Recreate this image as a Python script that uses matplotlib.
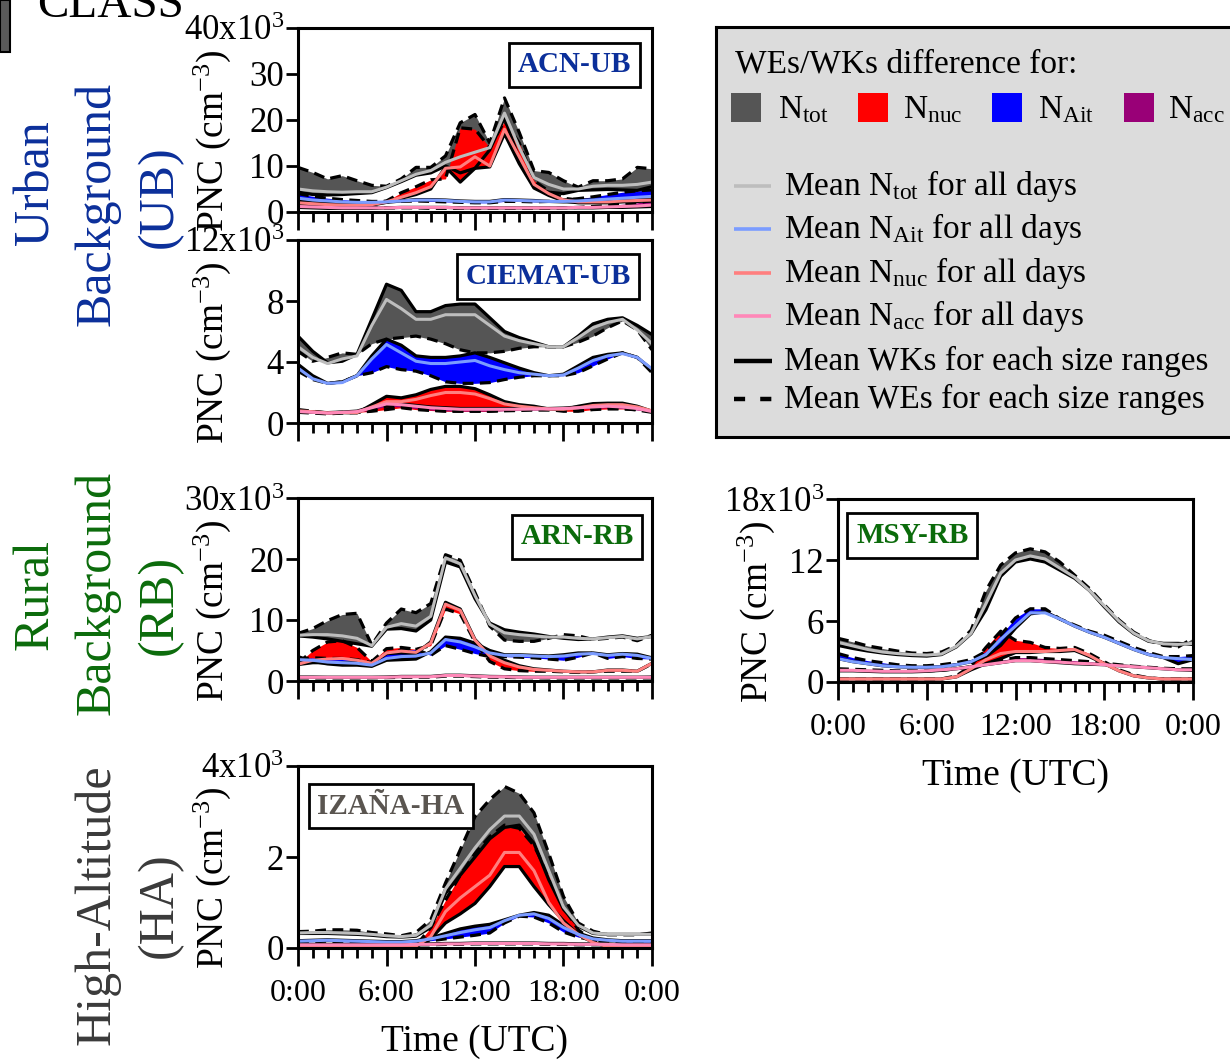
import numpy as np
import matplotlib.pyplot as plt
from matplotlib.patches import Rectangle

plt.rcParams['font.family'] = ['Liberation Serif', 'DejaVu Serif']
plt.rcParams['mathtext.fontset'] = 'custom'
plt.rcParams['mathtext.rm'] = 'Liberation Serif'
plt.rcParams['mathtext.it'] = 'Liberation Serif:italic'
plt.rcParams['mathtext.bf'] = 'Liberation Serif:bold'

# hourly means (x10^3 cm-3), 0:00 .. 24:00
hours = np.arange(25)

# ACN-UB
acn_tot_wk = [4.3,3.8,3.7,3.8,4.0,4.2,5.3,6.6,8.0,8.5,10.0,8.5,9.5,13.5,20.5,11.5,5.4,4.3,4.0,4.7,4.8,4.9,4.8,4.7,5.5]
acn_tot_we = [9.7,8.6,7.2,7.9,6.8,5.8,5.6,7.2,9.7,9.7,12.2,19.4,21.2,15.0,24.8,17.3,9.0,8.6,6.8,5.4,6.8,6.8,7.2,9.7,9.4]
acn_tot_all = [5.0,4.6,4.4,4.3,4.4,4.4,5.4,6.8,8.2,9.0,10.8,12.0,13.0,14.0,21.5,14.0,7.5,6.0,5.0,5.0,5.6,5.8,5.8,6.0,6.5]
acn_nuc_wk = [1.8,1.6,1.5,1.4,1.4,1.5,2.1,3.0,3.8,5.0,9.8,6.5,9.5,9.8,17.0,10.5,5.2,3.6,2.4,2.0,2.0,2.0,2.2,2.3,2.4]
acn_nuc_we = [2.5,2.2,2.0,1.8,1.7,1.8,2.4,4.2,5.5,7.0,7.2,18.3,18.0,14.0,19.8,15.0,6.8,4.5,3.0,2.6,2.6,2.6,2.8,2.8,3.0]
acn_nuc_all = [2.0,1.8,1.6,1.5,1.5,1.6,2.2,3.2,4.2,5.5,9.5,9.8,12.0,10.0,18.0,12.0,6.0,4.0,2.6,2.2,2.2,2.2,2.4,2.5,2.6]
acn_ait_wk = [2.6,2.3,2.1,2.0,1.9,1.9,2.1,2.4,2.7,2.7,2.6,2.4,2.3,2.3,2.7,2.6,2.5,2.3,2.2,2.2,2.3,2.4,2.6,2.8,3.0]
acn_ait_we = [4.0,3.4,3.0,2.7,2.5,2.3,2.3,2.3,2.4,2.3,2.2,2.1,2.0,2.0,2.3,2.3,2.2,2.3,2.6,2.9,3.3,3.8,4.3,4.6,4.8]
acn_ait_all = [3.0,2.6,2.4,2.2,2.1,2.1,2.2,2.4,2.6,2.6,2.5,2.3,2.2,2.2,2.6,2.5,2.4,2.3,2.3,2.4,2.6,2.8,3.0,3.2,3.4]
acn_acc_wk = [1.0,0.9,0.8,0.8,0.8,0.8,0.9,1.0,1.0,1.0,1.0,0.9,0.9,0.9,0.9,0.9,0.9,0.9,0.9,0.9,0.9,1.0,1.0,1.1,1.2]
acn_acc_we = [2.0,1.8,1.5,1.3,1.1,1.0,0.9,0.9,0.9,0.8,0.8,0.8,0.8,0.8,0.8,0.8,0.8,0.8,0.9,1.0,1.2,1.4,1.7,2.0,2.5]
acn_acc_all = [1.2,1.1,1.0,0.9,0.9,0.9,0.9,1.0,1.0,1.0,1.0,0.9,0.9,0.9,0.9,0.9,0.9,0.9,0.9,1.0,1.0,1.1,1.2,1.3,1.5]

# CIEMAT-UB
cie_tot_wk = [5.7,4.7,3.95,4.05,4.5,6.8,9.1,8.7,7.3,7.3,7.7,7.8,7.8,6.9,6.0,5.6,5.3,5.0,5.0,5.7,6.5,6.8,6.9,6.4,5.8]
cie_tot_we = [4.7,4.05,4.3,4.6,4.5,5.2,5.5,5.6,5.7,5.5,5.2,4.8,4.6,4.6,4.7,4.9,5.0,5.0,5.0,5.3,5.7,6.25,6.7,6.1,4.8]
cie_tot_all = [5.0,4.3,3.9,4.2,4.4,6.4,8.1,7.5,6.8,6.8,7.1,7.1,7.1,6.4,5.7,5.4,5.2,5.0,5.0,5.6,6.25,6.6,6.8,6.1,5.2]
cie_nuc_wk = [0.77,0.72,0.66,0.68,0.66,1.2,1.75,1.65,1.85,2.2,2.4,2.4,2.25,1.85,1.4,1.2,1.1,0.92,0.88,1.1,1.27,1.3,1.3,1.1,0.77]
cie_nuc_we = [0.88,0.77,0.66,0.7,0.7,0.77,0.88,1.0,0.88,0.82,0.77,0.77,0.77,0.77,0.82,0.88,0.88,0.88,0.77,0.77,0.88,0.92,0.92,0.88,0.77]
cie_nuc_all = [0.8,0.74,0.66,0.69,0.68,1.05,1.4,1.4,1.55,1.8,2.0,2.0,1.9,1.6,1.25,1.1,1.0,0.92,0.9,1.0,1.15,1.2,1.2,1.05,0.8]
cie_ait_wk = [3.85,3.1,2.6,2.7,3.1,4.4,5.5,5.1,4.4,4.3,4.3,4.4,4.6,4.3,3.95,3.6,3.3,3.1,3.2,3.75,4.3,4.5,4.6,4.3,3.5]
cie_ait_we = [3.4,2.85,2.6,2.7,3.1,3.3,3.7,3.5,3.4,3.1,2.7,2.6,2.6,2.65,2.85,3.0,3.1,3.1,3.1,3.3,3.75,4.2,4.6,4.3,3.3]
cie_ait_all = [3.6,2.9,2.6,2.65,3.1,4.2,5.15,4.6,4.05,3.9,3.9,4.0,4.1,3.75,3.5,3.3,3.2,3.1,3.15,3.6,4.1,4.4,4.55,4.3,3.55]
cie_acc_wk = [0.78,0.72,0.68,0.72,0.78,1.05,1.3,1.25,1.15,1.05,1.0,0.95,0.95,0.95,0.95,0.95,0.95,0.95,0.98,1.05,1.1,1.15,1.1,1.0,0.78]
cie_acc_we = [0.7,0.65,0.6,0.65,0.7,0.85,1.1,1.05,0.95,0.85,0.8,0.78,0.78,0.78,0.8,0.82,0.85,0.85,0.88,0.92,0.95,1.0,0.95,0.85,0.7]
cie_acc_all = [0.75,0.7,0.65,0.7,0.75,1.0,1.25,1.2,1.1,1.0,0.95,0.9,0.9,0.9,0.9,0.9,0.92,0.92,0.95,1.0,1.05,1.1,1.05,0.95,0.75]

# ARN-RB
arn_tot_wk = [7.4,7.2,6.9,6.5,6.1,5.7,8.5,8.6,8.2,10.0,19.5,18.7,13.5,9.5,8.4,8.0,7.7,7.3,7.0,6.8,6.9,7.2,7.4,7.0,7.3]
arn_tot_we = [7.8,8.6,9.9,10.9,11.1,5.9,9.5,11.8,11.2,12.7,20.7,19.8,14.5,9.0,6.7,6.5,6.5,7.0,7.6,7.4,6.8,7.0,7.2,6.6,7.5]
arn_tot_all = [7.5,7.6,7.6,7.4,7.0,5.8,8.8,9.4,9.0,10.6,20.2,19.2,14.0,9.3,7.9,7.6,7.4,7.2,7.2,7.0,6.9,7.1,7.3,6.9,7.3]
arn_nuc_wk = [2.7,3.0,3.0,3.0,3.0,2.8,4.5,4.6,4.5,6.4,12.9,11.8,6.8,4.3,3.4,2.5,2.0,1.8,1.6,1.5,1.5,1.8,1.8,1.6,2.9]
arn_nuc_we = [2.9,5.0,6.4,6.6,5.5,3.2,5.3,5.5,5.2,5.8,11.8,11.0,6.4,3.2,2.0,1.7,1.6,1.6,1.5,1.4,1.5,1.6,1.6,1.6,2.8]
arn_nuc_all = [2.75,3.4,3.6,3.7,3.4,2.9,4.6,4.9,4.7,6.2,12.6,11.6,6.7,4.1,3.0,2.3,1.9,1.75,1.6,1.5,1.5,1.75,1.75,1.6,2.9]
arn_ait_wk = [4.0,3.2,2.8,2.6,2.6,2.4,3.4,3.5,3.6,4.8,7.2,7.0,6.2,5.0,4.3,4.3,4.2,4.1,4.3,4.6,4.6,4.3,4.5,4.4,3.8]
arn_ait_we = [3.6,3.8,3.7,3.7,3.5,3.0,4.5,5.0,5.2,4.2,5.8,5.2,4.5,4.0,4.0,3.9,3.8,3.6,3.4,3.9,4.6,3.7,4.0,3.7,3.6]
arn_ait_all = [3.5,3.4,3.1,3.0,2.9,2.6,3.7,4.0,4.1,4.6,6.8,6.4,5.6,4.6,4.2,4.2,4.1,4.0,4.1,4.4,4.5,4.2,4.4,4.2,3.7]
arn_acc_wk = [0.65,0.65,0.62,0.62,0.62,0.62,0.65,0.75,0.75,0.75,0.95,0.95,0.85,0.75,0.72,0.65,0.62,0.62,0.62,0.62,0.62,0.62,0.62,0.62,0.65]
arn_acc_we = [0.5,0.5,0.5,0.5,0.5,0.52,0.55,0.6,0.62,0.62,0.8,0.8,0.72,0.62,0.6,0.55,0.52,0.5,0.5,0.5,0.5,0.5,0.5,0.5,0.5]
arn_acc_all = [0.6,0.6,0.6,0.6,0.6,0.6,0.6,0.7,0.7,0.7,0.9,0.9,0.8,0.7,0.7,0.6,0.6,0.6,0.6,0.6,0.6,0.6,0.6,0.6,0.6]

# MSY-RB
msy_tot_wk = [3.6,3.3,3.05,2.85,2.7,2.6,2.55,2.7,3.45,4.75,7.1,10.4,11.8,12.1,11.8,11.0,10.2,9.0,7.4,5.9,4.75,4.0,3.8,3.8,3.7]
msy_tot_we = [4.3,3.95,3.55,3.3,3.05,2.85,2.8,2.95,3.6,5.1,9.0,11.5,12.7,13.1,12.8,11.8,10.5,9.2,7.6,6.1,4.9,4.1,3.6,3.45,4.3]
msy_tot_all = [3.9,3.55,3.2,2.95,2.8,2.7,2.65,2.75,3.5,4.8,7.7,10.7,12.0,12.4,12.1,11.2,10.3,9.0,7.5,6.0,4.8,4.05,3.75,3.7,3.8]
msy_nuc_wk = [0.3,0.3,0.3,0.3,0.3,0.3,0.3,0.3,0.5,1.2,1.8,2.3,2.9,2.9,3.0,3.0,3.1,2.5,1.8,1.1,0.6,0.4,0.3,0.3,0.3]
msy_nuc_we = [0.3,0.3,0.3,0.3,0.3,0.3,0.3,0.3,0.6,1.6,3.4,5.0,4.1,3.9,3.4,3.3,3.4,2.8,2.0,1.2,0.7,0.4,0.3,0.3,0.3]
msy_nuc_all = [0.3,0.3,0.3,0.3,0.3,0.3,0.3,0.3,0.5,1.3,2.2,2.8,3.0,3.0,3.0,3.1,3.2,2.6,1.8,1.1,0.6,0.4,0.3,0.3,0.3]
msy_ait_wk = [2.3,2.0,1.8,1.6,1.5,1.45,1.45,1.5,1.7,2.0,2.5,3.6,5.3,6.7,6.9,6.2,5.5,4.9,4.4,3.8,3.2,2.7,2.4,1.8,2.2]
msy_ait_we = [2.8,2.4,2.1,1.9,1.7,1.6,1.6,1.7,1.9,2.2,3.0,4.6,6.3,7.2,7.2,6.2,5.6,5.0,4.6,4.0,3.4,2.9,2.5,2.5,2.6]
msy_ait_all = [2.3,2.0,1.8,1.6,1.5,1.45,1.45,1.5,1.7,2.0,2.7,4.2,5.5,6.8,6.8,6.2,5.5,4.9,4.4,3.8,3.2,2.7,2.4,2.3,2.2]
msy_acc_wk = [1.1,1.1,1.05,1.0,1.0,1.0,1.05,1.15,1.3,1.5,1.7,1.9,2.1,2.1,2.0,1.9,1.8,1.75,1.7,1.6,1.5,1.4,1.3,1.2,1.15]
msy_acc_we = [1.3,1.25,1.2,1.15,1.1,1.1,1.1,1.15,1.3,1.5,1.8,2.1,2.4,2.4,2.3,2.2,2.1,2.0,1.85,1.7,1.55,1.45,1.35,1.3,1.3]
msy_acc_all = [1.15,1.15,1.1,1.05,1.05,1.05,1.1,1.2,1.3,1.5,1.7,1.9,2.1,2.1,2.0,1.95,1.85,1.8,1.7,1.6,1.5,1.4,1.3,1.2,1.2]

# IZAÑA-HA
iza_tot_wk = [0.32,0.32,0.32,0.31,0.30,0.28,0.25,0.24,0.26,0.45,1.2,1.6,2.0,2.4,2.65,2.7,2.3,1.5,0.85,0.48,0.32,0.30,0.30,0.30,0.30]
iza_tot_we = [0.36,0.37,0.40,0.40,0.39,0.34,0.31,0.27,0.34,0.62,1.43,2.16,2.89,3.26,3.55,3.4,2.97,2.08,1.13,0.55,0.37,0.29,0.29,0.29,0.33]
iza_tot_all = [0.33,0.34,0.34,0.33,0.32,0.30,0.27,0.25,0.28,0.50,1.3,1.75,2.2,2.6,2.9,2.9,2.5,1.7,0.9,0.5,0.33,0.30,0.30,0.30,0.30]
iza_nuc_wk = [0.02,0.02,0.02,0.02,0.02,0.02,0.02,0.02,0.03,0.2,0.55,0.75,0.98,1.35,1.79,1.79,1.35,0.95,0.6,0.3,0.12,0.03,0.02,0.02,0.02]
iza_nuc_we = [0.02,0.02,0.02,0.02,0.02,0.02,0.02,0.02,0.05,0.45,1.05,1.6,2.08,2.45,2.7,2.63,2.25,1.6,0.9,0.4,0.15,0.04,0.02,0.02,0.02]
iza_nuc_all = [0.02,0.02,0.02,0.02,0.02,0.02,0.02,0.02,0.04,0.25,0.8,1.1,1.35,1.6,2.1,2.1,1.7,1.0,0.55,0.3,0.12,0.03,0.02,0.02,0.02]
iza_ait_wk = [0.16,0.17,0.18,0.17,0.16,0.15,0.14,0.14,0.16,0.22,0.32,0.42,0.48,0.52,0.62,0.72,0.78,0.72,0.5,0.33,0.22,0.18,0.16,0.16,0.16]
iza_ait_we = [0.13,0.14,0.15,0.14,0.13,0.12,0.12,0.12,0.13,0.16,0.2,0.24,0.28,0.33,0.55,0.7,0.68,0.55,0.35,0.24,0.17,0.15,0.13,0.13,0.13]
iza_ait_all = [0.15,0.16,0.17,0.16,0.15,0.14,0.13,0.13,0.15,0.2,0.27,0.34,0.4,0.45,0.6,0.72,0.75,0.65,0.45,0.3,0.2,0.17,0.15,0.15,0.15]
iza_acc_wk = [0.08,0.08,0.08,0.08,0.08,0.08,0.08,0.08,0.09,0.09,0.1,0.1,0.11,0.11,0.11,0.11,0.11,0.1,0.1,0.09,0.09,0.09,0.08,0.08,0.08]
iza_acc_we = [0.06,0.06,0.06,0.06,0.06,0.06,0.06,0.06,0.07,0.07,0.08,0.08,0.09,0.09,0.09,0.09,0.09,0.08,0.08,0.07,0.07,0.07,0.06,0.06,0.06]
iza_acc_all = [0.07,0.07,0.07,0.07,0.07,0.07,0.07,0.07,0.08,0.08,0.09,0.09,0.1,0.1,0.1,0.1,0.1,0.09,0.09,0.08,0.08,0.08,0.07,0.07,0.07]

stations = {
    'ACN-UB': {'tot': (acn_tot_wk, acn_tot_we, acn_tot_all), 'nuc': (acn_nuc_wk, acn_nuc_we, acn_nuc_all),
               'ait': (acn_ait_wk, acn_ait_we, acn_ait_all), 'acc': (acn_acc_wk, acn_acc_we, acn_acc_all)},
    'CIEMAT-UB': {'tot': (cie_tot_wk, cie_tot_we, cie_tot_all), 'nuc': (cie_nuc_wk, cie_nuc_we, cie_nuc_all),
                  'ait': (cie_ait_wk, cie_ait_we, cie_ait_all), 'acc': (cie_acc_wk, cie_acc_we, cie_acc_all)},
    'ARN-RB': {'tot': (arn_tot_wk, arn_tot_we, arn_tot_all), 'nuc': (arn_nuc_wk, arn_nuc_we, arn_nuc_all),
               'ait': (arn_ait_wk, arn_ait_we, arn_ait_all), 'acc': (arn_acc_wk, arn_acc_we, arn_acc_all)},
    'MSY-RB': {'tot': (msy_tot_wk, msy_tot_we, msy_tot_all), 'nuc': (msy_nuc_wk, msy_nuc_we, msy_nuc_all),
               'ait': (msy_ait_wk, msy_ait_we, msy_ait_all), 'acc': (msy_acc_wk, msy_acc_we, msy_acc_all)},
    'IZAÑA-HA': {'tot': (iza_tot_wk, iza_tot_we, iza_tot_all), 'nuc': (iza_nuc_wk, iza_nuc_we, iza_nuc_all),
                 'ait': (iza_ait_wk, iza_ait_we, iza_ait_all), 'acc': (iza_acc_wk, iza_acc_we, iza_acc_all)},
}

fill_colors = {'tot': '#555555', 'nuc': '#ff0000', 'ait': '#0000ff', 'acc': '#990077'}
mean_colors = {'tot': '#bdbdbd', 'nuc': '#ff7f7f', 'ait': '#7b9cff', 'acc': '#ff88b8'}
ranges = ['tot', 'nuc', 'ait', 'acc']
dash = (0, (3.4, 2.0))

UB_COL = '#0b2f9a'
RB_COL = '#0b6b0b'
HA_COL = '#3a3a3a'

W, H = 1230, 1063
fig = plt.figure(figsize=(W / 100, H / 100), dpi=100)


def frame(l, t, r, b):
    return [l / W, 1 - b / H, (r - l) / W, (b - t) / H]


def panel(name, rect, ymax, yticks, color, box_xy, time_axis, ylab_x):
    ax = fig.add_axes(frame(*rect))
    data = stations[name]
    for k in ranges:
        wk, we, _ = data[k]
        ax.fill_between(hours, wk, we, color=fill_colors[k], lw=0)
        ax.plot(hours, wk, color='black', lw=2.3)
        ax.plot(hours, we, color='black', lw=2.3, ls=dash)
    for k in ranges:
        ax.plot(hours, data[k][2], color=mean_colors[k], lw=2.2)

    ax.set_xlim(0, 24)
    ax.set_ylim(0, ymax)
    ax.set_xticks([0, 6, 12, 18, 24])
    ax.set_xticks(range(25), minor=True)
    ax.set_yticks(yticks)
    labels = [f'{t:g}' for t in yticks]
    labels[-1] = labels[-1] + 'x10$^{3}$'
    ax.set_yticklabels(labels)
    for s in ax.spines.values():
        s.set_linewidth(2.2)
    ax.tick_params(axis='y', direction='out', length=9, width=2, labelsize=25, pad=1)
    ax.tick_params(axis='x', which='major', direction='out', length=13, width=2, labelsize=23, pad=9)
    ax.tick_params(axis='x', which='minor', direction='out', length=7, width=2)
    if time_axis:
        ax.set_xticklabels(['0:00', '6:00', '12:00', '18:00', '0:00'])
        ax.set_xlabel('Time (UTC)', fontsize=27, labelpad=12)
    else:
        ax.set_xticklabels([])
    ax.set_ylabel('PNC (cm$^{-3}$)', fontsize=27)
    ax.yaxis.set_label_coords(ylab_x, 0.385)

    ax.text(box_xy[0], box_xy[1], name, transform=ax.transAxes, ha='center', va='center',
            fontsize=21, fontweight='bold', color=color,
            bbox=dict(boxstyle='square,pad=0.3', fc='white', ec='black', lw=2))
    return ax


panel('ACN-UB', (298, 28, 652, 212), 40, [0, 10, 20, 30, 40], UB_COL, (0.782, 0.80), False, -0.185)
panel('CIEMAT-UB', (298, 240, 652, 423), 12, [0, 4, 8, 12], UB_COL, (0.706, 0.80), False, -0.185)
panel('ARN-RB', (298, 498, 652, 681), 30, [0, 10, 20, 30], RB_COL, (0.788, 0.787), False, -0.185)
panel('MSY-RB', (838, 499, 1193, 682), 18, [0, 6, 12, 18], RB_COL, (0.209, 0.80), True, -0.172)
panel('IZAÑA-HA', (298, 766, 652, 948), 4, [0, 2, 4], '#5a5550', (0.263, 0.78), True, -0.185)

# site class labels down the left side
for txt, x, y, col in [('Urban', 36, 183, UB_COL), ('Background', 97, 204, UB_COL), ('(UB)', 160, 197, UB_COL),
                       ('Rural', 36, 595, RB_COL), ('Background', 97, 593, RB_COL), ('(RB)', 160, 605, RB_COL),
                       ('High-Altitude', 97, 905, HA_COL), ('(HA)', 160, 905, HA_COL)]:
    fig.text(x / W, 1 - y / H, txt, rotation=90, ha='center', va='center', fontsize=36, color=col)

fig.text(37 / W, 1 - 17 / H, 'CLASS', fontsize=34, va='baseline')
fig.add_artist(Rectangle((0, 1 - 52 / H), 10 / W, 52 / H, transform=fig.transFigure,
                         fc='#5a5a5a', ec='black', lw=1.5))

# legend panel
lax = fig.add_axes(frame(716, 27, 1230, 437))
lax.set_xlim(716, 1230)
lax.set_ylim(437, 27)
lax.set_facecolor('#dcdcdc')
lax.set_xticks([])
lax.set_yticks([])
for side in ['left', 'top', 'bottom']:
    lax.spines[side].set_linewidth(2.2)
lax.spines['right'].set_visible(False)

lax.text(735, 64, 'WEs/WKs difference for:', va='center', fontsize=24)
for k, sub, xs, xt in [('tot', 'tot', 731, 778), ('nuc', 'nuc', 858, 903),
                       ('ait', 'Ait', 992, 1038), ('acc', 'acc', 1124, 1168)]:
    lax.add_patch(Rectangle((xs, 93), 30, 29, fc=fill_colors[k], ec='none'))
    lax.text(xt, 110, 'N$_{\\mathrm{' + sub + '}}$', va='center', fontsize=24)

for k, sub, y in [('tot', 'tot', 186), ('ait', 'Ait', 229), ('nuc', 'nuc', 273), ('acc', 'acc', 316)]:
    lax.plot([734, 771], [y, y], color=mean_colors[k], lw=2.6, solid_capstyle='butt')
    lax.text(784, y, 'Mean N$_{\\mathrm{' + sub + '}}$ for all days', va='center', fontsize=24)
lax.plot([734, 772], [361, 361], color='black', lw=3.2, solid_capstyle='butt')
lax.text(784, 361, 'Mean WKs for each size ranges', va='center', fontsize=24)
lax.plot([734, 772], [399, 399], color='black', lw=3.2, ls=(0, (2.5, 3.4)), solid_capstyle='butt')
lax.text(784, 399, 'Mean WEs for each size ranges', va='center', fontsize=24)

fig.savefig('out.png', dpi=100)
